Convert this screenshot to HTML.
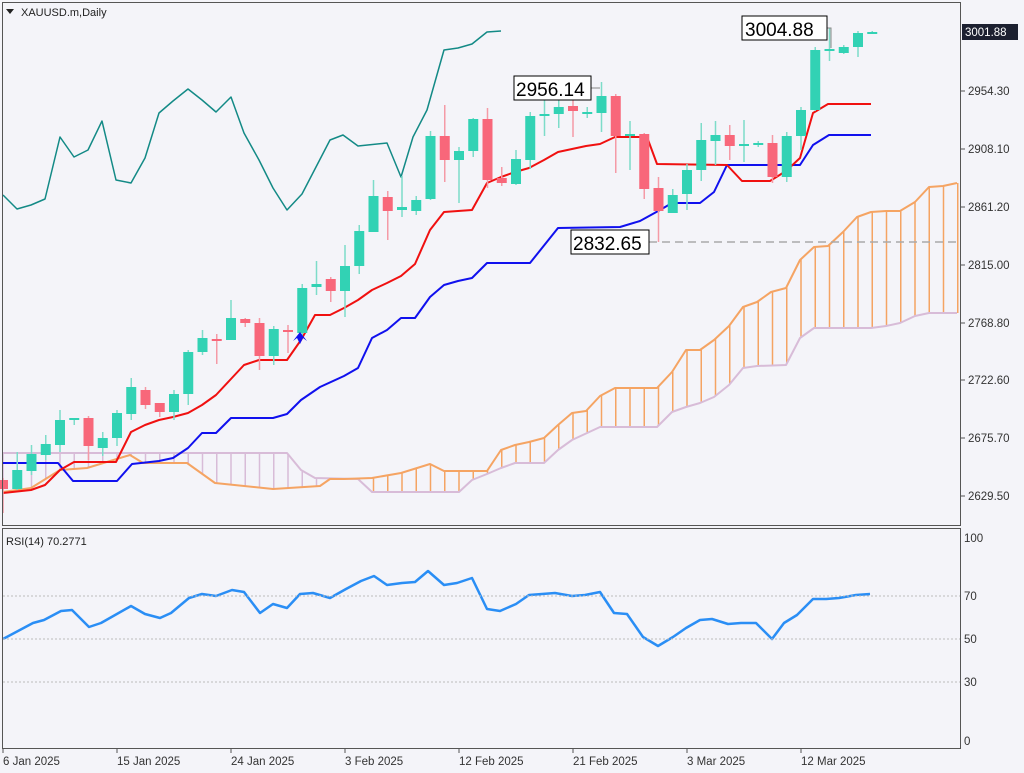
<!DOCTYPE html>
<html><head><meta charset="utf-8">
<style>
html,body{margin:0;padding:0;background:#f4f4f9;}
svg{display:block;font-family:"Liberation Sans",sans-serif;}
</style></head>
<body>
<svg id="c" width="1024" height="773" viewBox="0 0 1024 773" xmlns="http://www.w3.org/2000/svg">
<rect width="1024" height="773" fill="#f4f4f9"/>
<g id="cloud"></g>
<g id="lines"></g>
<g id="candles"></g>
<g id="rsi"></g>
<!-- borders -->
<rect x="2.5" y="2.5" width="958" height="523" fill="none" stroke="#555" stroke-width="1"/>
<rect x="2.5" y="528.5" width="958" height="220" fill="none" stroke="#555" stroke-width="1"/>
<!-- header -->
<polygon points="6,9 14,9 10,14" fill="#222"/>
<text x="21" y="16" font-size="11" fill="#222">XAUUSD.m,Daily</text>
<text x="6" y="545" font-size="11" fill="#222">RSI(14) 70.2771</text>
<!-- price axis -->
<g font-size="11.5" fill="#333">
<text x="968" y="95">2954.30</text>
<text x="968" y="153">2908.10</text>
<text x="968" y="211">2861.20</text>
<text x="968" y="269">2815.00</text>
<text x="968" y="327">2768.80</text>
<text x="968" y="384">2722.60</text>
<text x="968" y="442">2675.70</text>
<text x="968" y="500">2629.50</text>
<text x="964" y="542">100</text>
<text x="964" y="600">70</text>
<text x="964" y="643">50</text>
<text x="964" y="686">30</text>
<text x="964" y="745">0</text>
</g>
<g stroke="#555">
<line x1="961" y1="91" x2="965" y2="91"/><line x1="961" y1="149" x2="965" y2="149"/>
<line x1="961" y1="207" x2="965" y2="207"/><line x1="961" y1="265" x2="965" y2="265"/>
<line x1="961" y1="323" x2="965" y2="323"/><line x1="961" y1="380" x2="965" y2="380"/>
<line x1="961" y1="438" x2="965" y2="438"/><line x1="961" y1="496" x2="965" y2="496"/>
</g>
<rect x="962" y="24" width="56" height="16" fill="#1c2030"/>
<text x="965" y="36" font-size="11.5" fill="#fff">3001.88</text>
<!-- rsi levels -->
<g stroke="#bbb" stroke-dasharray="2,2">
<line x1="3" y1="596" x2="960" y2="596"/><line x1="3" y1="639" x2="960" y2="639"/><line x1="3" y1="682" x2="960" y2="682"/>
</g>
<!-- date axis -->
<g font-size="11.5" fill="#333">
<text x="3" y="765">6 Jan 2025</text><text x="117" y="765">15 Jan 2025</text>
<text x="231" y="765">24 Jan 2025</text><text x="345" y="765">3 Feb 2025</text>
<text x="459" y="765">12 Feb 2025</text><text x="573" y="765">21 Feb 2025</text>
<text x="687" y="765">3 Mar 2025</text><text x="801" y="765">12 Mar 2025</text>
</g>
<g stroke="#555"><line x1="3" y1="749" x2="3" y2="753"/><line x1="117" y1="749" x2="117" y2="753"/><line x1="231" y1="749" x2="231" y2="753"/><line x1="345" y1="749" x2="345" y2="753"/><line x1="459" y1="749" x2="459" y2="753"/><line x1="573" y1="749" x2="573" y2="753"/><line x1="687" y1="749" x2="687" y2="753"/><line x1="801" y1="749" x2="801" y2="753"/></g>
<!-- annotations -->
<line x1="649" y1="242" x2="960" y2="242" stroke="#aaa" stroke-width="1.5" stroke-dasharray="8,5"/>
<polyline points="827,28 831,28 831,48" fill="none" stroke="#888"/>
<polyline points="591,88 600,88" fill="none" stroke="#888"/>
<rect x="742" y="16" width="85" height="24" fill="#fff" stroke="#000"/>
<text x="745" y="36" font-size="19" fill="#000">3004.88</text>
<rect x="514" y="76" width="77" height="24" fill="#fff" stroke="#000"/>
<text x="516" y="96" font-size="19" fill="#000">2956.14</text>
<rect x="571" y="230" width="78" height="24" fill="#fff" stroke="#000"/>
<text x="573" y="250" font-size="19" fill="#000">2832.65</text>
</svg>
<script>
var NS="http://www.w3.org/2000/svg";
function el(p,t,a){var e=document.createElementNS(NS,t);for(var k in a)e.setAttribute(k,a[k]);document.getElementById(p).appendChild(e);return e;}
function pl(p,pts,col,w){el(p,"polyline",{points:pts.map(function(q){return q.join(",")}).join(" "),fill:"none",stroke:col,"stroke-width":w||2,"stroke-linejoin":"round"});}
function interp(pts,x){if(x<=pts[0][0])return pts[0][1];for(var i=1;i<pts.length;i++){if(x<=pts[i][0]){var a=pts[i-1],b=pts[i];return a[1]+(b[1]-a[1])*(x-a[0])/(b[0]-a[0]);}}return pts[pts.length-1][1];}
var A=[[3,492],[31,488],[60,470],[87,468],[130,455],[143,463],[187,463],[215,483],[273,489],[320,486],[330,479],[344,479],[372,478],[401,473],[430,464],[444,471],[487,471],[501,450],[515,445],[529,442],[544,438],[558,425],[572,413],[586,411],[600,396],[615,388],[657,388],[672,372],[686,350],[700,350],[714,340],[729,326],[743,307],[757,302],[771,292],[786,288],[800,260],[814,247],[828,246],[843,232],[857,217],[871,212],[886,211],[900,211],[915,202],[929,187],[943,186],[957,183]];
var B=[[3,453],[287,453],[301,470],[315,478],[358,479],[372,492],[459,492],[472,480],[487,474],[501,468],[515,463],[544,463],[558,450],[572,440],[600,427],[657,427],[672,412],[686,407],[700,403],[714,397],[729,385],[743,368],[757,366],[786,365],[800,338],[814,328],[871,328],[886,326],[900,323],[915,316],[929,313],[957,313]];
for(var i=0;i<=67;i++){var x=3+i*14.25;var a=interp(A,x),b=interp(B,x);el("cloud","line",{x1:x,y1:a,x2:x,y2:b,stroke:(a<b?"#f5a463":"#d8bcd8"),"stroke-width":1.5});}
pl("cloud",B,"#d8bcd8",2);pl("cloud",A,"#f5a463",2);
var T=[[3,493],[31,490],[45,485],[60,470],[74,462],[116,462],[131,432],[145,425],[159,420],[173,417],[188,413],[202,405],[216,395],[230,380],[244,365],[259,360],[287,360],[301,340],[315,315],[330,315],[344,308],[358,300],[372,290],[387,283],[401,276],[415,264],[430,230],[444,212],[472,210],[487,183],[501,177],[515,172],[529,168],[544,160],[558,152],[572,149],[586,146],[600,144],[615,137],[647,137],[657,164],[727,165],[742,181],[770,181],[786,171],[800,158],[813,113],[828,104],[871,104]];
var K=[[3,463],[58,463],[73,481],[117,481],[132,464],[159,461],[173,458],[188,448],[202,433],[216,433],[231,418],[273,418],[287,414],[301,400],[320,387],[344,376],[358,368],[372,338],[387,330],[401,318],[415,318],[430,297],[444,285],[458,281],[472,278],[487,263],[530,263],[558,228],[620,227],[640,221],[660,210],[672,203],[700,203],[714,192],[727,165],[800,165],[813,145],[829,135],[871,135]];
var C=[[3,195],[17,209],[31,205],[45,199],[60,137],[74,157],[88,150],[102,121],[116,180],[131,183],[145,158],[159,113],[173,101],[188,89],[202,100],[216,112],[231,97],[244,133],[259,160],[273,188],[287,210],[302,194],[330,140],[343,135],[358,146],[387,143],[401,177],[413,137],[427,110],[444,50],[458,48],[472,44],[487,32],[501,31]];
pl("lines",C,"#138a86",1.5);pl("lines",K,"#1010ee",2);pl("lines",T,"#f01010",2);
// candles: [open, close, high, low] in px
var D=[[480,489,478,513],[489,470,452,490],[471,454,445,475],[455,444,435,460],[445,420,410,452],[419,418,418,425],[418,446,416,460],[448,438,432,456],[438,413,410,446],[414,387,378,420],[390,405,387,409],[403,412,403,417],[412,394,390,420],[394,352,350,405],[352,338,330,355],[339,341,334,364],[340,318,300,340],[319,323,318,327],[323,356,318,370],[356,329,326,365],[330,332,325,353],[333,288,284,338],[287,284,261,295],[279,291,277,302],[291,266,245,317],[266,231,225,274],[232,196,180,232],[197,211,191,240],[210,207,176,217],[211,200,196,215],[199,136,131,200],[136,160,105,182],[160,151,147,203],[151,119,118,157],[119,180,108,188],[178,183,167,186],[184,159,150,185],[160,116,112,169],[116,114,98,136],[114,107,88,128],[106,111,100,137],[114,112,107,118],[113,96,82,132],[96,136,94,173],[135,134,121,170],[134,189,133,199],[188,211,177,242],[213,195,189,212],[194,170,164,210],[170,140,123,181],[141,135,121,165],[135,146,125,160],[146,144,120,162],[144,143,141,147],[143,177,135,183],[177,136,132,182],[136,110,107,150],[110,50,47,111],[50,49,28,61],[53,47,45,54],[47,33,31,57],[33,32,31,34]];
D.forEach(function(d,i){var x=3+i*14.25;var up=d[1]<=d[0];var col=up?"#32d2b4":"#f8677a";
el("candles","line",{x1:x,y1:d[2],x2:x,y2:d[3],stroke:up?"#7ddcc9":"#f59aa6","stroke-width":1.5});
var t=Math.min(d[0],d[1]),h=Math.max(2,Math.abs(d[0]-d[1]));el("candles","rect",{x:x-5,y:t,width:10,height:h,fill:col});});
el("candles","polygon",{points:"293,341 300,332 307,341 303,338 300,344 297,338",fill:"#1010ee"});
var R=[[3,639],[33,623],[44,620],[61,611],[72,610],[89,627],[101,623],[131,606],[145,614],[160,618],[171,613],[189,598],[202,594],[216,596],[232,590],[244,592],[260,613],[273,604],[287,608],[300,594],[313,593],[330,598],[346,589],[361,581],[374,576],[387,585],[402,583],[415,582],[428,571],[444,585],[457,583],[472,578],[487,609],[500,611],[516,604],[529,595],[542,594],[555,593],[572,596],[585,595],[600,592],[614,613],[627,614],[643,637],[658,646],[673,637],[686,628],[700,620],[712,619],[728,624],[741,623],[756,623],[772,639],[784,623],[797,615],[813,599],[826,599],[839,598],[856,595],[870,594]];
pl("rsi",R,"#2a8ef5",2.5);
</script>
</body></html>
